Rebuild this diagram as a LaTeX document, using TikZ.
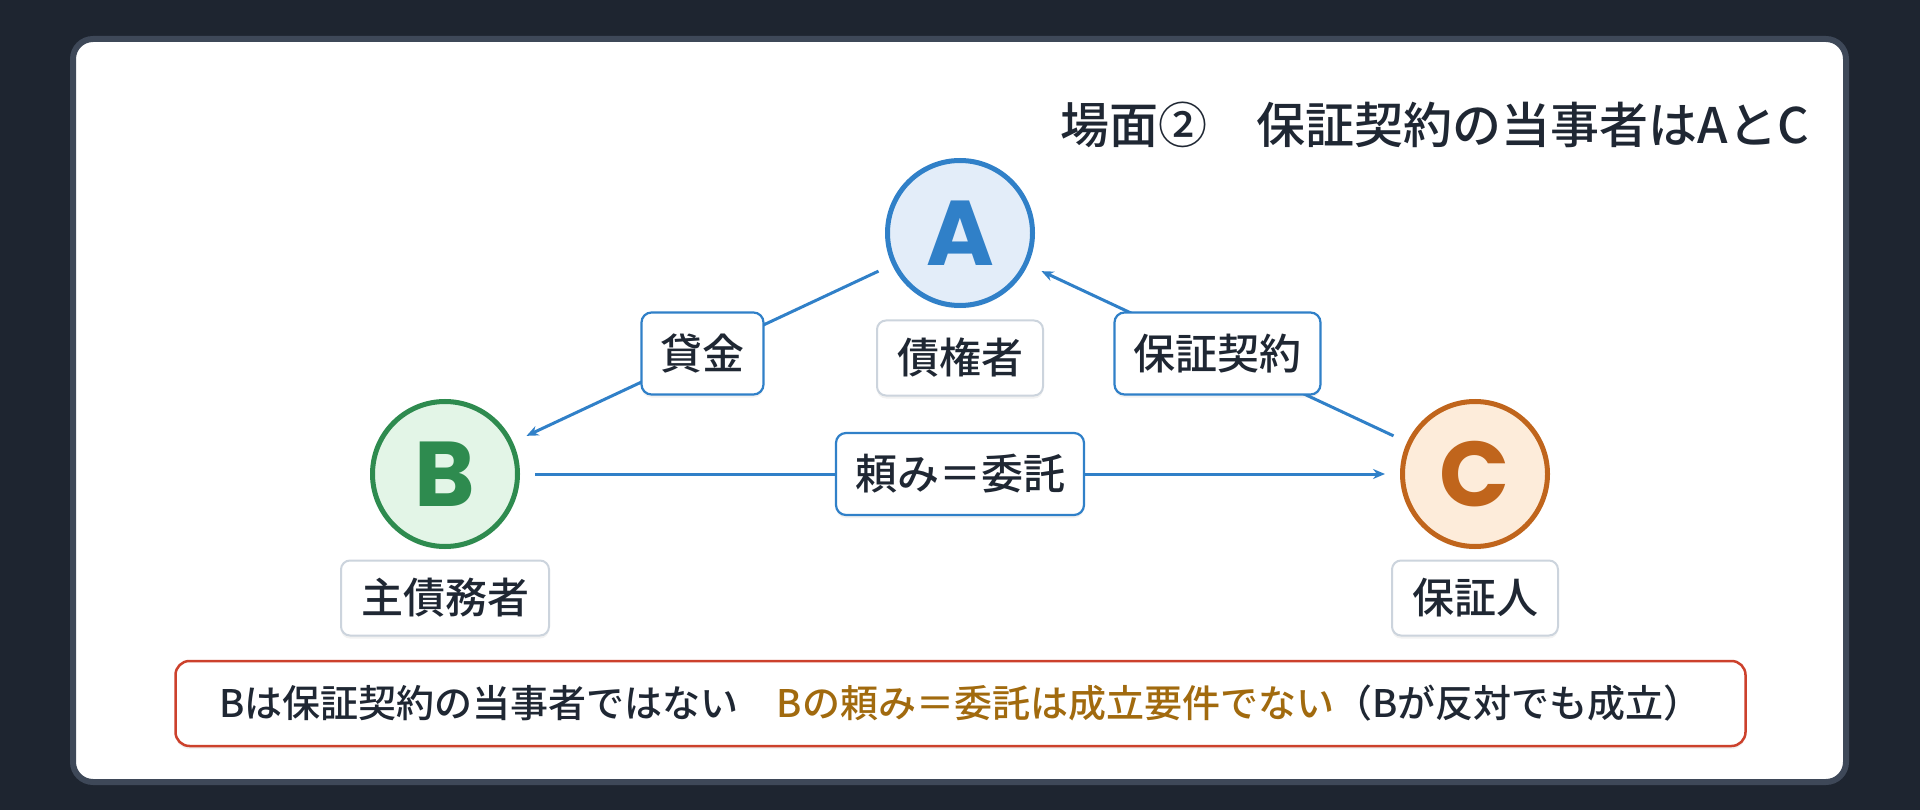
\documentclass[tikz,border=0pt]{standalone}
\usepackage{fontspec}
\setmainfont{Noto Sans CJK JP}
\newfontfamily\medfont{Noto Sans CJK JP Medium}
\newfontfamily\letterfont{Poppins}
\usetikzlibrary{arrows.meta,shadows}
\definecolor{bgdark}{HTML}{1E2530}
\definecolor{cardline}{HTML}{3E4858}
\definecolor{txt}{HTML}{1F2733}
\definecolor{blueline}{HTML}{3080C8}
\definecolor{bluefill}{HTML}{E3EDF9}
\definecolor{greenline}{HTML}{2E8B4F}
\definecolor{greenfill}{HTML}{E3F5E7}
\definecolor{orangeline}{HTML}{C0651C}
\definecolor{orangefill}{HTML}{FDECDA}
\definecolor{grayline}{HTML}{CCD4DD}
\definecolor{redline}{HTML}{CC412C}
\definecolor{gold}{HTML}{A16A0E}
\tikzset{
  softshadow/.style={drop shadow={opacity=0.10, shadow xshift=0pt, shadow yshift=-3pt}},
  party/.style={circle, minimum size=145pt, inner sep=0pt, line width=5pt,
    font=\letterfont\fontsize{92}{92}\selectfont\bfseries, softshadow},
  rolebox/.style={draw=grayline, line width=2pt, fill=white, rounded corners=9pt,
    minimum height=75pt, inner xsep=20pt, inner ysep=0pt,
    font=\medfont\fontsize{42}{42}\selectfont, text=txt, softshadow},
  edgebox/.style={draw=blueline, line width=2.2pt, fill=white, rounded corners=10pt,
    minimum height=82pt, inner xsep=19pt, inner ysep=0pt,
    font=\medfont\fontsize{42}{42}\selectfont, text=txt, softshadow},
  conn/.style={draw=blueline, line width=3pt, -{Stealth[length=12pt,width=10pt]},
    shorten >=15pt, shorten <=15pt}
}
\begin{document}
\begin{tikzpicture}[x=1pt,y=-1pt]
\fill[bgdark] (0,0) rectangle (1920,810);
\useasboundingbox (0,0) rectangle (1920,810);
\draw[line width=6pt, draw=cardline, fill=white, rounded corners=20pt] (73,39) rectangle (1846,782);

\node[font=\medfont\fontsize{49}{49}\selectfont, text=txt] (title) at (1435,125) {場面②　保証契約の当事者はAとC};

\node[party, draw=blueline, fill=bluefill, text=blueline] (A) at (960,233) {A};
\node[party, draw=greenline, fill=greenfill, text=greenline] (B) at (445,474) {B};
\node[party, draw=orangeline, fill=orangefill, text=orangeline] (C) at (1475,474) {C};

\node[rolebox] (Alab) at (960,358) {債権者};
\node[rolebox] (Blab) at (445,598) {主債務者};
\node[rolebox] (Clab) at (1475,598) {保証人};

\draw[conn] (A) -- node[edgebox] (loan) {貸金} (B);
\draw[conn] (C) -- node[edgebox] (guar) {保証契約} (A);
\draw[conn] (B) -- node[edgebox] (req) {頼み＝委託} (C);

\node[draw=redline, line width=2.5pt, fill=white, rounded corners=14pt,
  minimum width=1570pt, minimum height=85pt, inner sep=0pt,
  font=\medfont\fontsize{38}{38}\selectfont, text=txt, softshadow] (note) at (960.5,703.5)
  {Bは保証契約の当事者ではない　\textcolor{gold}{Bの頼み＝委託は成立要件でない}（Bが反対でも成立）};
\end{tikzpicture}
\end{document}
